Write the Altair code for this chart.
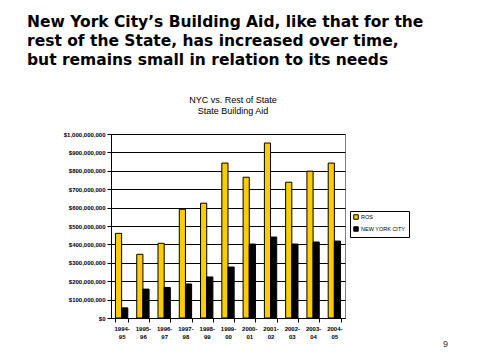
import altair as alt
import pandas as pd

years = ["1994-95", "1995-96", "1996-97", "1997-98", "1998-99", "1999-00",
         "2000-01", "2001-02", "2002-03", "2003-04", "2004-05"]
ros = [460e6, 346e6, 406e6, 591e6, 624e6, 842e6, 765e6, 951e6, 738e6, 798e6, 842e6]
nyc = [55e6, 157e6, 166e6, 185e6, 223e6, 277e6, 402e6, 440e6, 402e6, 413e6, 418e6]
series = ["ROS", "NEW YORK CITY"]
colors = ["#FFCC00", "#000000"]
y_ticks = [i * 100_000_000 for i in range(11)]

title_lines = ["New York City\u2019s Building Aid, like that for the",
               "rest of the State, has increased over time,",
               "but remains small in relation to its needs"]
subtitle_lines = ["NYC vs. Rest of State", "State Building Aid"]
page_number = "9"

rows = []
for yr, r, n in zip(years, ros, nyc):
    rows.append({"year": yr, "series": series[0], "value": r})
    rows.append({"year": yr, "series": series[1], "value": n})
df = pd.DataFrame(rows)

W, H = 234, 184
FONT = "Liberation Sans"

bars = alt.Chart(df).mark_bar(stroke="black", strokeWidth=1).encode(
    x=alt.X("year:N", sort=years, title=None,
            scale=alt.Scale(paddingInner=0.42, paddingOuter=0.21),
            axis=alt.Axis(labelAngle=0, tickBand="extent", tickSize=4,
                          labelExpr="[slice(datum.label,0,5), slice(datum.label,5)]",
                          labelLineHeight=8, labelPadding=3, grid=False)),
    xOffset=alt.XOffset("series:N", sort=series, scale=alt.Scale(paddingInner=0)),
    y=alt.Y("value:Q", title=None, scale=alt.Scale(domain=[0, 1e9], nice=False),
            axis=alt.Axis(values=y_ticks, format="$,.0f", tickSize=4, labelPadding=2,
                          grid=True)),
    color=alt.Color("series:N", sort=series, title=None,
                    scale=alt.Scale(domain=series, range=colors),
                    legend=alt.Legend(orient="none", legendX=239, legendY=77,
                                      symbolType="square", symbolSize=20,
                                      symbolStrokeColor="black", symbolStrokeWidth=1,
                                      labelFontSize=5.5, labelFont=FONT,
                                      strokeColor="black", fillColor="white",
                                      padding=3, rowPadding=2, labelOffset=2)),
)

one = pd.DataFrame({"a": [0]})
title = alt.Chart(one).mark_text(
    text=title_lines, align="left", baseline="alphabetic", lineHeight=19,
    font="DejaVu Sans", fontWeight="bold", fontSize=15.5, color="black"
).encode(x=alt.value(-84), y=alt.value(-107))

subtitle = alt.Chart(one).mark_text(
    text=subtitle_lines, align="center", baseline="alphabetic", lineHeight=11,
    font=FONT, fontSize=9, color="black"
).encode(x=alt.value(122), y=alt.value(-31))

page = alt.Chart(one).mark_text(
    text=page_number, align="left", baseline="alphabetic",
    font=FONT, fontSize=9, color="#333333"
).encode(x=alt.value(332), y=alt.value(213))

chart = alt.layer(bars, title, subtitle, page).properties(
    width=W, height=H,
    autosize=alt.AutoSizeParams(type="none"),
    padding={"left": 103, "top": 126, "right": 126, "bottom": 33},
    background="white",
).configure_view(stroke="#808080", strokeWidth=1).configure_axis(
    domainColor="black", tickColor="black", gridColor="black", gridOpacity=1,
    labelColor="black", labelFont=FONT, labelFontSize=6, labelFontWeight="bold",
    gridWidth=1, domainWidth=1, tickWidth=1,
)

chart.save("out.html", embed_options={"renderer": "svg", "actions": False})
